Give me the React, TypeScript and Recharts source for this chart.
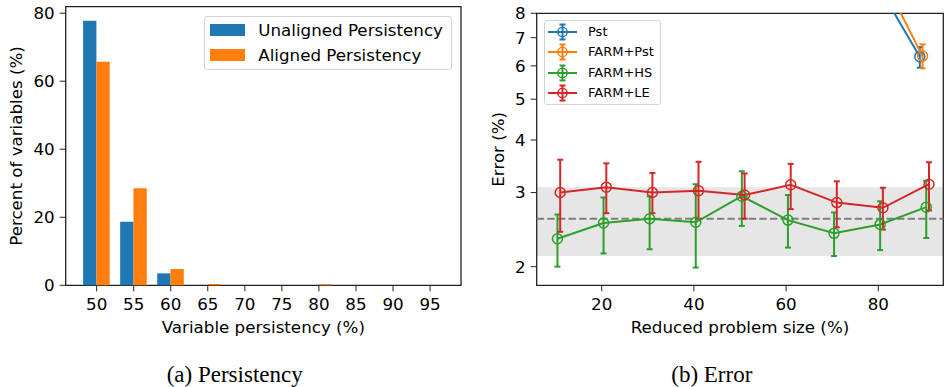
import React from 'react';
import {
  BarChart,
  Bar,
  XAxis,
  YAxis,
  ComposedChart,
  Line,
  ErrorBar,
  ReferenceArea,
  ReferenceLine,
  Legend,
} from 'recharts';

// ---------- (a) Persistency ----------
const persistencyBins = [50, 55, 60, 65, 70, 75, 80, 85, 90, 95];
const unalignedPct = [77.8, 18.7, 3.5, 0, 0, 0, 0, 0, 0, 0];
const alignedPct = [65.7, 28.5, 4.8, 0.4, 0, 0, 0.3, 0, 0, 0];
const percentTicks = [0, 20, 40, 60, 80];
const binDomain = [45.825, 99.175];
const percentDomain = [0, 81.9];

// ---------- (b) Error ----------
const sizes = [10, 20, 30, 40, 50, 60, 70, 80, 90];
const hsMean = [2.33, 2.54, 2.6, 2.55, 2.94, 2.58, 2.4, 2.52, 2.77];
const hsLow = [2.0, 2.15, 2.2, 1.99, 2.5, 2.22, 2.12, 2.19, 2.34];
const hsHigh = [2.66, 2.92, 2.94, 3.14, 3.37, 2.96, 2.69, 2.86, 3.2];
const leMean = [3.0, 3.09, 3.0, 3.03, 2.96, 3.13, 2.84, 2.76, 3.14];
const leLow = [2.42, 2.68, 2.68, 2.6, 2.6, 2.74, 2.48, 2.45, 2.72];
const leHigh = [3.59, 3.52, 3.34, 3.55, 3.33, 3.51, 3.19, 3.08, 3.54];
const pstSizes = [80, 90];
const pstMean = [9.7, 6.31];
const pstLow = [9.2, 5.94];
const pstHigh = [10.2, 6.65];
const farmPstMean = [10.4, 6.33];
const farmPstLow = [9.8, 5.92];
const farmPstHigh = [11.0, 6.75];
const errorTicks = [2, 3, 4, 5, 6, 7, 8];
const sizeTicks = [20, 40, 60, 80];
const sizeDomain = [5.9, 94.1];
const errorDomain = [1.806, 8];
const bandLow = 2.12;
const bandHigh = 3.09;
const refError = 2.6;
const xOffsets = { pst: -1, farmPst: -0.4, hs: 0.4, le: 1.0 };

const FONT = '"DejaVu Sans", sans-serif';
const FS = 16.7;
const SPINE = '#222';

const barData = persistencyBins.map((b, i) => ({
  bin: b,
  unaligned: unalignedPct[i],
  aligned: alignedPct[i],
}));

const mk = (xs: number[], off: number, mean: number[], low: number[], high: number[]) =>
  xs.map((x, i) => ({ x: x + off, y: mean[i], err: [mean[i] - low[i], high[i] - mean[i]] }));

const series = [
  { name: 'Pst', color: '#1f77b4', data: mk(pstSizes, xOffsets.pst, pstMean, pstLow, pstHigh) },
  { name: 'FARM+Pst', color: '#ff7f0e', data: mk(pstSizes, xOffsets.farmPst, farmPstMean, farmPstLow, farmPstHigh) },
  { name: 'FARM+HS', color: '#2ca02c', data: mk(sizes, xOffsets.hs, hsMean, hsLow, hsHigh) },
  { name: 'FARM+LE', color: '#d62728', data: mk(sizes, xOffsets.le, leMean, leLow, leHigh) },
];

const tickStyle = { fontSize: FS, fontFamily: FONT, fill: '#000' };

const yTitle = (text: string, dx: number) => (props: any) => {
  const vb = props.viewBox || {};
  const cx = (vb.x || 0) + dx;
  const cy = (vb.y || 0) + (vb.height || 0) / 2;
  return (
    <text
      x={cx}
      y={cy}
      transform={`rotate(-90 ${cx} ${cy})`}
      textAnchor="middle"
      dominantBaseline="central"
      fontSize={FS}
      fontFamily={FONT}
      fill="#000"
    >
      {text}
    </text>
  );
};

const xTitle = (text: string, dy: number) => (props: any) => {
  const vb = props.viewBox || {};
  const cx = (vb.x || 0) + (vb.width || 0) / 2;
  const y = (vb.y || 0) + dy;
  return (
    <text x={cx} y={y} textAnchor="middle" fontSize={FS} fontFamily={FONT} fill="#000">
      {text}
    </text>
  );
};

const PersistencyLegend = () => (
  <div
    style={{
      position: 'relative',
      width: 248,
      height: 54,
      boxSizing: 'border-box',
      border: '1px solid #d3d3d3',
      borderRadius: 3,
      background: 'rgba(255,255,255,0.8)',
      fontFamily: FONT,
      fontSize: FS,
      color: '#000',
    }}
  >
    {[
      { name: 'Unaligned Persistency', color: '#1f77b4' },
      { name: 'Aligned Persistency', color: '#ff7f0e' },
    ].map((it, i) => (
      <div
        key={it.name}
        style={{
          position: 'absolute',
          left: 0,
          top: 13.2 + i * 25 - 11,
          height: 22,
          display: 'flex',
          alignItems: 'center',
          whiteSpace: 'nowrap',
        }}
      >
        <div style={{ width: 34.3, height: 11.7, marginLeft: 5.3, background: it.color }} />
        <span style={{ marginLeft: 13.7, lineHeight: '22px' }}>{it.name}</span>
      </div>
    ))}
  </div>
);

const ErrorLegend = () => (
  <div
    style={{
      position: 'relative',
      width: 117,
      height: 85,
      boxSizing: 'border-box',
      border: '1px solid #d3d3d3',
      borderRadius: 3,
      background: 'rgba(255,255,255,0.8)',
      fontFamily: FONT,
      fontSize: 13,
      color: '#000',
    }}
  >
    {series.map((s, i) => (
      <div
        key={s.name}
        style={{
          position: 'absolute',
          left: 0,
          top: 11.2 + i * 20.2 - 10,
          height: 20,
          display: 'flex',
          alignItems: 'center',
          whiteSpace: 'nowrap',
        }}
      >
        <svg width={40} height={20} style={{ display: 'block' }}>
          <line x1={3} x2={32} y1={10} y2={10} stroke={s.color} strokeWidth={2} />
          <line x1={17.5} x2={17.5} y1={2.5} y2={17.5} stroke={s.color} strokeWidth={2} />
          <line x1={14.5} x2={20.5} y1={2.5} y2={2.5} stroke={s.color} strokeWidth={2} />
          <line x1={14.5} x2={20.5} y1={17.5} y2={17.5} stroke={s.color} strokeWidth={2} />
          <circle cx={17.5} cy={10} r={4.7} fill="none" stroke={s.color} strokeWidth={1.5} />
        </svg>
        <span style={{ marginLeft: 3, lineHeight: '20px' }}>{s.name}</span>
      </div>
    ))}
  </div>
);

export default function App() {
  return (
    <div style={{ position: 'absolute', left: 0, top: 0, width: 946, height: 387, background: '#fff' }}>
      <svg width={946} height={387} style={{ position: 'absolute', left: 0, top: 0 }}>
        <text x={234.7} y={382} textAnchor="middle" fontFamily='"Liberation Serif", serif' fontSize={23} fill="#000">
          (a) Persistency
        </text>
        <text x={711.8} y={382} textAnchor="middle" fontFamily='"Liberation Serif", serif' fontSize={23} fill="#000">
          (b) Error
        </text>
      </svg>

      <div style={{ position: 'absolute', left: 0, top: 0 }}>
        <BarChart
          width={470}
          height={340}
          data={barData}
          margin={{ top: 6.7, right: 9, bottom: 4.7, left: 0 }}
          barGap={0}
        >
          <XAxis
            dataKey="bin"
            type="number"
            domain={binDomain}
            ticks={persistencyBins}
            interval={0}
            height={50}
            axisLine={false}
            stroke={SPINE}
            tickSize={6}
            tickMargin={7}
            tick={tickStyle}
            label={xTitle('Variable persistency (%)', 47.7)}
          />
          <YAxis
            type="number"
            domain={percentDomain}
            ticks={percentTicks}
            interval={0}
            width={65.7}
            axisLine={false}
            stroke={SPINE}
            tickSize={6}
            tickMargin={5}
            tick={tickStyle}
            label={yTitle('Percent of variables (%)', 15.8)}
          />
          <Bar dataKey="unaligned" name="Unaligned Persistency" fill="#1f77b4" barSize={13.3} isAnimationActive={false} />
          <Bar dataKey="aligned" name="Aligned Persistency" fill="#ff7f0e" barSize={13.3} isAnimationActive={false} />
          <ReferenceArea
            x1={binDomain[0]}
            x2={binDomain[1]}
            y1={percentDomain[0]}
            y2={percentDomain[1]}
            fill="none"
            fillOpacity={0}
            stroke={SPINE}
            strokeWidth={1.3}
            ifOverflow="visible"
          />
          <Legend
            layout="vertical"
            align="center"
            verticalAlign="middle"
            content={() => <PersistencyLegend />}
            wrapperStyle={{ left: 204, top: 16, width: 248, height: 54, right: 'auto', bottom: 'auto' }}
          />
        </BarChart>
      </div>

      <div style={{ position: 'absolute', left: 470, top: 0 }}>
        <ComposedChart width={476} height={340} margin={{ top: 13.3, right: 2.7, bottom: 4.7, left: 0 }}>
          <XAxis
            dataKey="x"
            type="number"
            domain={sizeDomain}
            ticks={sizeTicks}
            interval={0}
            allowDataOverflow
            height={50}
            axisLine={false}
            stroke={SPINE}
            tickSize={6}
            tickMargin={6.5}
            tick={tickStyle}
            label={xTitle('Reduced problem size (%)', 47.7)}
          />
          <YAxis
            type="number"
            scale="log"
            domain={errorDomain}
            ticks={errorTicks}
            interval={0}
            allowDataOverflow
            width={66.7}
            axisLine={false}
            stroke={SPINE}
            tickSize={6}
            tickMargin={5}
            tick={tickStyle}
            label={yTitle('Error (%)', 28)}
          />
          <ReferenceArea y1={bandLow} y2={bandHigh} fill="#808080" fillOpacity={0.2} stroke="none" />
          <ReferenceLine y={refError} stroke="#7f7f7f" strokeWidth={2} strokeDasharray="7.4 3.2" />
          {series.map((s) => (
            <Line
              key={s.name}
              data={s.data}
              dataKey="y"
              name={s.name}
              type="linear"
              stroke={s.color}
              strokeWidth={2}
              dot={{ r: 5, fill: 'none', stroke: s.color, strokeWidth: 1.5 }}
              activeDot={false}
              isAnimationActive={false}
            >
              <ErrorBar dataKey="err" width={3} stroke={s.color} strokeWidth={2} direction="y" />
            </Line>
          ))}
          <ReferenceArea
            x1={sizeDomain[0]}
            x2={sizeDomain[1]}
            y1={errorDomain[0]}
            y2={errorDomain[1]}
            fill="none"
            fillOpacity={0}
            stroke={SPINE}
            strokeWidth={1.3}
            ifOverflow="visible"
          />
          <Legend
            layout="vertical"
            align="center"
            verticalAlign="middle"
            content={() => <ErrorLegend />}
            wrapperStyle={{ left: 74, top: 20, width: 117, height: 85, right: 'auto', bottom: 'auto' }}
          />
        </ComposedChart>
      </div>
    </div>
  );
}
